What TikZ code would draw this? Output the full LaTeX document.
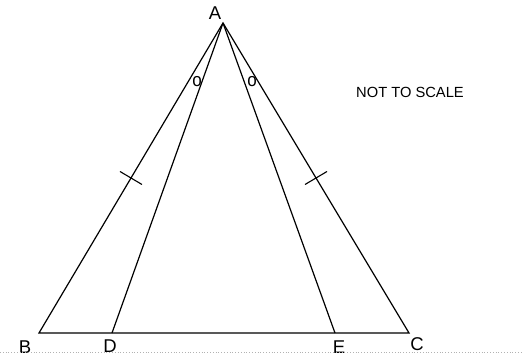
\documentclass[tikz,border=0pt]{standalone}
\usepackage{fontspec}
\setmainfont{Liberation Sans}
\usetikzlibrary{calc}
\begin{document}
\begin{tikzpicture}[x=1pt,y=-1pt,
  seg/.style={line width=1.2pt,black},
  lbl/.style={font=\fontsize{18.5}{18.5}\selectfont,inner sep=0pt},
  angmark/.style={font=\fontsize{17}{17}\selectfont,inner sep=0pt},
  tickmark/.style={line width=1.1pt}]
\useasboundingbox (0,0) rectangle (523,358);
\coordinate (A) at (223,23);
\coordinate (B) at (39,333);
\coordinate (D) at (112,333);
\coordinate (E) at (335,333);
\coordinate (C) at (409,333);
\draw[seg,line join=miter] (B) -- (A) -- (C) -- cycle;
\draw[seg] (A) -- (D);
\draw[seg] (A) -- (E);
% tick marks
\draw[tickmark] ($(B)!0.5!(A)$) ++(-11,-6.5) -- ++(22,13);
\draw[tickmark] ($(C)!0.5!(A)$) ++(-11,6.5) -- ++(22,-13);
% angle marks
\node[angmark] (o1) at (197,82) {\scalebox{1}[1.1]{o}};
\node[angmark] (o2) at (252,82) {\scalebox{1}[1.1]{o}};
% labels
\node[lbl] (la) at (215,13) {A};
\node[lbl] (lb) at (25,347) {B};
\node[lbl] (ld) at (110,346) {D};
\node[lbl] (le) at (339,347) {E};
\node[lbl] (lc) at (417,344) {C};
\node[font=\fontsize{14.7}{14.7}\selectfont,inner sep=0pt,anchor=west] (nts) at (356,92) {NOT TO SCALE};
% baseline dots
\draw[gray!60,dotted,line width=0.8pt] (0,352) -- (523,352);
\end{tikzpicture}
\end{document}
